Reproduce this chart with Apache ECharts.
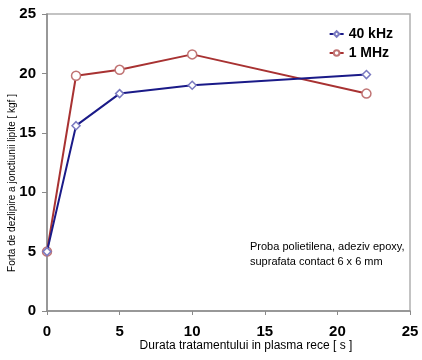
<!DOCTYPE html>
<html>
<head>
<meta charset="utf-8">
<script src="https://cdn.jsdelivr.net/npm/echarts@6/dist/echarts.min.js"></script>
<style>html,body{margin:0;padding:0;background:#fff}#c{width:422px;height:360px}</style>
</head>
<body>
<div id="c"></div>
<script>
const xValues = [0, 2, 5, 10, 22];
const series40kHz = [5, 15.6, 18.3, 19.0, 19.9];
const series1MHz = [5, 19.8, 20.3, 21.6, 18.3];
const seriesNames = ['40 kHz', '1 MHz'];
const xTitle = 'Durata tratamentului in plasma rece [ s ]';
const yTitle = 'Forta de dezlipire a jonctiunii lipite [ kgf ]';
const noteLines = ['Proba polietilena, adeziv epoxy,', 'suprafata contact 6 x 6 mm'];

const pair = (ys) => xValues.map((x, i) => [x, ys[i]]);
const chart = echarts.init(document.getElementById('c'));
const axisLine = { lineStyle: { color: '#8a8a8a', width: 1.5 } };
const tickLabel = { fontFamily: 'Liberation Sans, Arial', fontWeight: 'bold', fontSize: 15, color: '#000' };
const font = 'Liberation Sans, Arial';
chart.setOption({
  animation: false,
  backgroundColor: '#fff',
  grid: { left: 47, right: 12, top: 14, bottom: 49, containLabel: false, outerBoundsMode: 'none', show: true, borderColor: '#b0b0b0', borderWidth: 1.5, backgroundColor: 'transparent' },
  legend: {
    data: seriesNames,
    orient: 'vertical',
    right: 24, top: 22,
    itemWidth: 14, itemHeight: 7, itemGap: 5,
    textStyle: { fontFamily: font, fontSize: 14, fontWeight: 'bold', color: '#000' }
  },
  xAxis: {
    type: 'value', min: 0, max: 25, interval: 5,
    axisLine: axisLine,
    axisTick: { show: true, length: 4, inside: false, lineStyle: { color: '#8a8a8a' } },
    axisLabel: Object.assign({ margin: 13 }, tickLabel),
    splitLine: { show: false }
  },
  yAxis: {
    type: 'value', min: 0, max: 25, interval: 5,
    axisLine: Object.assign({ show: true }, axisLine),
    axisTick: { show: true, length: 5, inside: false, lineStyle: { color: '#8a8a8a' } },
    axisLabel: Object.assign({ margin: 11 }, tickLabel),
    splitLine: { show: false }
  },
  series: [
    {
      name: seriesNames[0], type: 'line', data: pair(series40kHz),
      symbol: 'diamond', symbolSize: 8,
      lineStyle: { color: '#1a1a88', width: 2 },
      itemStyle: { color: '#fff', borderColor: '#7a7ac0', borderWidth: 1.5 },
      z: 3
    },
    {
      name: seriesNames[1], type: 'line', data: pair(series1MHz),
      symbol: 'circle', symbolSize: 9,
      lineStyle: { color: '#a83232', width: 2 },
      itemStyle: { color: '#fff', borderColor: '#c07474', borderWidth: 1.5 },
      z: 2
    }
  ],
  graphic: [
    {
      type: 'text', left: 250, top: 239,
      style: { text: noteLines.join('\n'), fontFamily: font, fontSize: 11, lineHeight: 15, fill: '#000' }
    },
    {
      type: 'text', x: 246, y: 346,
      style: { text: xTitle, fontFamily: font, fontSize: 12, fill: '#000', align: 'center', verticalAlign: 'middle' }
    },
    {
      type: 'text', x: 12, y: 183, rotation: Math.PI / 2,
      style: { text: yTitle, fontFamily: font, fontSize: 10, fill: '#000', align: 'center', verticalAlign: 'middle' }
    }
  ]
});
</script>
</body>
</html>
